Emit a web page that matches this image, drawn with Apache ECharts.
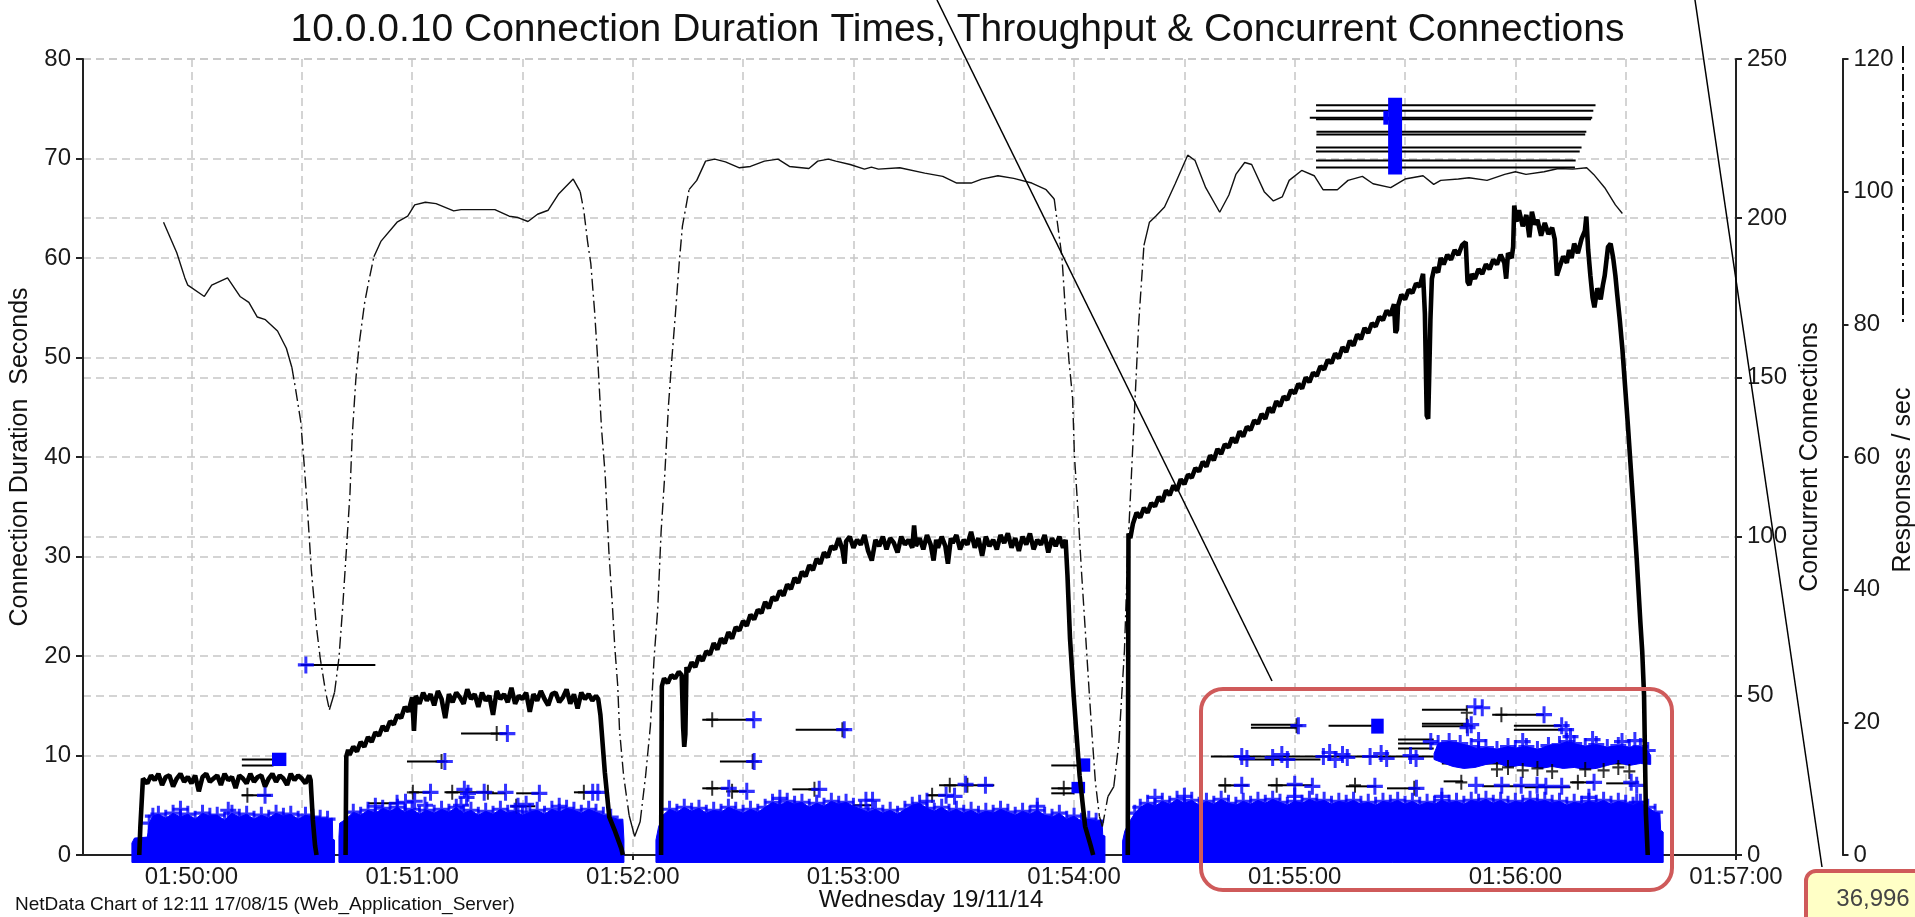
<!DOCTYPE html>
<html>
<head>
<meta charset="utf-8">
<script src="https://cdn.jsdelivr.net/npm/echarts@6/dist/echarts.min.js"></script>
<style>html,body{margin:0;padding:0;background:#fff;}#chart{width:1915px;height:917px;}</style>
</head>
<body>
<div id="chart"></div>
<script>
// ---- tick labels (seconds after 01:50:00) ----
const xLabelSecs = [0, 60, 120, 180, 240, 300, 360, 420];
const xLabelTexts = ['01:50:00', '01:51:00', '01:52:00', '01:53:00', '01:54:00', '01:55:00', '01:56:00', '01:57:00'];
const xTickSecs = [0, 30, 60, 90, 120, 150, 180, 210, 240, 270, 300, 330, 360, 390, 420];

// ---- concurrent connections [sec, connections] ----
const concSeg1 = [[-14.2,0],[-13.9,9],[-13.4,9.5],[-13.2,24],[-12,22.5],[-11,25],[-10,23.5],[-9,25.5],[-8,22],[-7,24.5],[-6,25],[-5,21.5],[-4,24],[-3,25.5],[-2,23],[-1,24.5],[0,22.5],[1,25],[2,20],[3,24.5],[4,25.5],[5,23],[6,24],[7,25],[8,22],[9,25.5],[10,23.5],[11,24.5],[12,21],[13,25],[14,24],[15,22.5],[16,25.5],[17,23],[18,24.5],[19,25],[20,21.5],[21,24],[22,25.5],[23,23],[24,25],[25,24],[26,22],[27,25.5],[28,23.5],[29,25],[30,24],[31,22.5],[32,25],[32.4,23.5],[33,11],[33.6,3],[34,0]];
const concSeg2 = [[41.9,0],[42.1,31],[42.6,33],[43,31.5],[44,34],[45,32.5],[46,35.5],[47,34],[48,37],[49,35.5],[50,38.5],[51,37.5],[52,40.5],[53,39],[54,42],[55,41],[56,44],[57,43],[58,46.5],[59,45],[60,49.5],[60.5,39],[61,50],[62,47.5],[63,51],[64,48.5],[65,50.5],[66,47],[67,51.5],[68,49],[69,43],[70,50.5],[71,48],[72,51],[73,49.5],[74,47.5],[75,52],[76,49],[77,50.5],[78,46.5],[79,51],[80,48.5],[81,50],[82,44],[83,51.5],[84,49],[85,50.5],[86,48],[87,52.5],[88,47.5],[89,50],[90,49],[91,51],[92,45],[93,50.5],[94,48.5],[95,51.5],[96,49],[97,47],[98,50.5],[99,51],[100,48],[101,49.5],[102,52],[103,47.5],[104,50.5],[105,46],[106,51],[107,49],[108,50.5],[109,48.5],[110,50],[110.6,49],[111.2,44],[112.4,26],[113.6,12],[115,8],[116.9,2],[117.3,0]];
const concSeg3 = [[127.7,0],[127.9,53],[128.5,55.5],[129.5,54],[130.5,56.5],[131.5,55.5],[132.5,57.5],[133.3,56.5],[133.7,40],[134,34],[134.3,38],[134.6,59],[135,57.5],[136,60.5],[137,59],[138,62.5],[139,61],[140,64],[141,63],[142,66.5],[143,64.5],[144,68],[145,66.5],[146,70],[147,68],[148,71.5],[149,70.5],[150,73.5],[151,72],[152,75.5],[153,74],[154,77],[155,76],[156,79.5],[157,77.5],[158,81],[159,80],[160,83],[161,81.5],[162,85],[163,83.5],[164,87],[165,85.5],[166,89],[167,87.5],[168,91],[169,89.5],[170,93],[171,91.5],[172,95],[173,93.5],[174,97],[175,96],[176,99.5],[177,96],[177.6,91.5],[178,98.5],[179,100],[180,96.5],[181,99],[182,97.5],[183,100.5],[184,95.5],[185,92.5],[186,99],[187,97],[188,100],[189,96],[190,99.5],[191,98],[192,95],[193,100],[194,97.5],[195,99],[196,96.5],[196.5,103.5],[197,97],[198,99.5],[199,96],[200,100.5],[201,97.5],[201.8,92.5],[202.5,99],[203,96.5],[204,100],[205,97],[205.7,91.5],[206.5,99.5],[207,98],[208,100.5],[209,96],[210,99],[211,97.5],[212,101.5],[213,96.5],[214,99.5],[215,94],[216,100],[217,97],[218,99],[219,96],[220,100.5],[221,98],[222,101],[223,96.5],[224,99.5],[225,95.5],[226,100],[227,97.5],[228,101],[229,96],[230,99],[231,97.5],[232,100.5],[233,95],[234,99.5],[235,97],[236,100],[237,96.5],[237.7,99],[238.2,88],[238.9,68],[239.9,50],[240.6,39],[241.5,25],[243,9],[244.5,3],[245.2,0]];
const concSeg4 = [[254.6,0],[254.8,101],[255.3,99.5],[256,104],[257,107.5],[258,106],[259,109],[260,107.5],[261,110.5],[262,109.5],[263,112.5],[264,111],[265,114.5],[266,113],[267,116],[268,114.5],[269,118],[270,116.5],[271,119.5],[272,118.5],[273,121.5],[274,120.5],[275,123.5],[276,122],[277,125.5],[278,124],[279,127.5],[280,126],[281,129],[282,128],[283,131],[284,129.5],[285,133],[286,131.5],[287,134.5],[288,133.5],[289,136.5],[290,135.5],[291,138.5],[292,137],[293,140.5],[294,139],[295,142.5],[296,141],[297,144],[298,143],[299,146],[300,145],[301,148],[302,146.5],[303,150],[304,148.5],[305,151.5],[306,150.5],[307,153.5],[308,152.5],[309,155.5],[310,154.5],[311,157.5],[312,156],[313,159.5],[314,158],[315,161.5],[316,160],[317,163.5],[318,162],[319,165.5],[320,164],[321,167],[322,166],[323,169],[324,168],[325,171],[326,169.5],[327,173],[327.4,164],[327.8,165],[328.1,172.5],[329,176],[330,174.5],[331,177.5],[332,176.5],[333,179.5],[334,178.5],[334.9,182.5],[335.4,170],[335.9,138],[336.3,137],[336.6,152],[336.9,168],[337.3,181],[338,184.5],[339,183],[339.7,187.5],[340.5,185.5],[341.5,188.5],[342.5,187],[343.5,190],[344.5,188.5],[345.5,191.5],[346.5,192.5],[347,180],[347.5,179],[348.2,182.5],[349,181],[350,184],[351,182.5],[352,185.5],[353,184],[354,187],[355,185.5],[356,188.5],[357,186],[357.5,181],[358,189],[359,187.5],[359.4,191],[359.7,204],[360.3,199],[361,202.5],[362,197.5],[363,201],[363.8,194],[364.5,202],[365.3,198],[366,199.5],[367,194.5],[368,198.5],[369,195],[370,197],[370.7,193.5],[371.3,182],[372,184.5],[373,188],[374,186],[374.6,190],[375.3,187.5],[376,192],[377,189],[378,193.5],[378.9,196],[379.3,200.5],[379.8,190],[380.4,182],[381,175],[381.5,172],[382.3,178],[383.2,174.5],[383.8,179],[384.3,182],[385.2,191],[385.9,192],[386.6,187.5],[387.2,182],[387.7,176],[388.4,168],[389.1,159],[390.6,135],[392,111],[393,93],[394,73],[394.5,64],[395,50],[395.5,13],[396,0]];

// ---- responses / sec [sec, responses] ----
const respPoints = [[-7.6,95.4],[-4.0,90.8],[-1.8,87.0],[-1.0,85.9],[3.5,84.2],[5.5,85.9],[9.8,87.0],[13.2,84.2],[15.6,83.3],[17.9,81.1],[20.1,80.7],[23.4,79.0],[25.8,76.4],[27.3,73.5],[28.2,70.6],[29.7,65.4],[30.7,58.5],[31.6,51.6],[32.6,42.9],[34.0,34.3],[35.0,29.7],[36.5,24.5],[37.5,21.9],[38.9,24.5],[40.1,29.7],[41.1,37.2],[42.1,45.8],[43.1,54.5],[43.7,63.1],[44.7,71.8],[45.7,77.5],[47.1,83.3],[48.1,86.2],[49.6,90.2],[51.5,92.5],[55.9,95.4],[58.8,96.3],[60.7,98.0],[63.6,98.4],[66.5,98.2],[71.3,97.1],[73.3,97.3],[82.5,97.3],[86.4,96.3],[88.8,96.1],[91.5,95.5],[94.1,96.6],[97.0,97.2],[99.9,99.7],[103.8,101.9],[105.7,100.0],[106.7,97.1],[107.7,92.5],[108.6,89.1],[109.6,82.1],[110.6,73.5],[111.5,64.3],[112.5,57.3],[113.5,45.8],[114.5,37.2],[115.1,31.4],[115.9,25.6],[116.4,18.8],[117.5,12.0],[119.0,6.0],[120.5,2.8],[122.0,5.0],[123.5,12.0],[124.8,19.5],[125.8,29.7],[126.8,37.2],[127.7,48.7],[128.7,57.3],[129.7,67.7],[130.6,74.6],[131.6,81.6],[132.6,89.1],[133.5,94.8],[135.3,100.3],[137.4,101.7],[139.8,104.6],[142.3,104.9],[145.2,104.5],[149.0,103.6],[152.0,103.8],[155.8,104.6],[159.5,104.9],[162.6,103.8],[167.9,103.5],[170.3,104.6],[173.2,104.9],[175.2,104.6],[179.1,104.1],[183.0,103.4],[184.9,103.7],[186.8,103.4],[192.6,103.6],[199.4,102.8],[204.3,102.3],[208.1,101.3],[212.0,101.3],[214.9,101.9],[219.3,102.4],[223.6,102.0],[228.5,101.3],[232.4,100.3],[234.6,98.9],[235.3,96.0],[236.7,90.2],[237.7,81.6],[238.6,74.6],[239.6,68.9],[240.1,60.2],[241.1,51.6],[242.0,42.9],[243.0,34.3],[244.0,25.6],[244.8,18.8],[245.8,11.0],[246.9,5.8],[247.7,4.3],[249.2,8.8],[250.8,10.3],[252.2,17.0],[253.7,30.8],[254.6,45.8],[255.6,57.3],[256.6,68.9],[257.6,80.4],[259.0,91.9],[260.5,95.4],[262.2,96.3],[264.6,97.7],[267.5,101.2],[270.9,105.5],[272.9,104.7],[275.8,100.6],[279.6,96.9],[282.1,99.5],[284.0,102.6],[286.4,104.4],[288.3,104.1],[291.7,100.0],[294.2,98.6],[296.6,99.2],[298.5,101.7],[301.9,103.2],[305.3,102.4],[307.7,100.3],[311.6,100.3],[314.5,101.7],[318.4,102.3],[321.3,101.2],[326.1,100.6],[330.0,101.9],[334.9,102.4],[337.8,101.1],[339.7,101.7],[344.5,101.9],[347.4,102.1],[352.3,101.7],[357.1,102.6],[360.0,103.0],[362.9,102.6],[367.8,103.0],[371.7,103.5],[375.6,103.4],[379.4,103.6],[381.3,102.6],[384.3,100.6],[387.2,98.0],[389.1,96.7]];

// ---- connection durations: horizontal lines [start sec, end sec, duration s] ----
const connLines = [[29.7,50.0,19.1],[13.7,22.3,9.6],[13.7,22.3,9.0],[13.7,21.6,6.0],[73.3,85.9,12.2],[58.6,68.9,9.4],[59.2,65.0,6.3],[68.8,80.6,6.3],[80.6,85.4,6.2],[88.3,94.6,6.2],[104.0,110.5,6.3],[87.1,93.5,4.9],[48.0,55.9,5.2],[138.9,152.9,13.6],[164.3,177.1,12.6],[143.7,152.9,9.4],[138.9,146.1,6.7],[147.0,151.0,6.4],[163.4,170.7,6.6],[179.9,184.9,5.0],[203.3,218.3,7.0],[200.0,205.2,6.0],[233.8,241.1,9.0],[233.8,240.1,6.7],[233.8,240.1,6.2],[288.1,300.5,13.1],[288.1,300.5,12.8],[309.2,321.3,13.0],[334.6,347.0,14.6],[334.6,347.0,13.2],[334.6,347.0,12.95],[353.7,367.8,14.1],[359.6,372.6,13.0],[359.6,372.6,12.6],[328.1,337.8,11.6],[328.1,337.8,11.2],[328.1,337.8,10.7],[277.2,337.8,9.9],[285.0,307.0,9.6],[279.2,287.4,7.0],[292.7,304.8,7.0],[313.9,322.2,6.9],[325.1,333.1,6.7],[340.5,345.8,7.4],[351.0,362.5,6.9],[362.5,375.0,6.8],[374.9,381.4,7.3],[384.7,392.8,7.2],[337.8,396.0,9.8],[340.0,392.0,9.2],[305.8,381.8,75.35],[305.8,381.2,74.8],[304.1,380.9,74.1],[305.8,380.6,73.95],[305.9,379.3,72.7],[305.9,379.0,72.4],[305.8,378.0,71.1],[305.8,377.5,70.7],[305.8,376.4,69.8],[305.8,376.2,69.1]];
const blackPlus = [[15.2,6.0],[83.0,12.2],[68.0,9.4],[60.2,6.3],[70.9,6.3],[80.6,6.3],[106.7,6.3],[88.3,4.9],[141.6,13.6],[177.0,12.6],[152.6,9.4],[141.6,6.7],[147.0,6.4],[169.4,6.6],[206.2,7.0],[211.0,7.0],[201.4,6.0],[237.2,6.7],[300.5,13.0],[346.8,14.3],[346.8,13.0],[356.2,14.1],[281.1,7.0],[295.1,7.0],[316.4,7.0],[332.5,6.7],[345.3,7.3],[377.0,7.3],[355,8.6],[358,8.8],[362,8.5],[366,8.7],[370,8.4],[379,8.6],[384,8.5],[388,8.8],[391,8.4]];
const bluePlus = [[31.1,19.1],[20.0,6.0],[85.9,12.2],[68.9,9.4],[65.0,6.3],[74.2,6.6],[75.2,6.2],[74.8,5.8],[79.6,6.3],[85.4,6.3],[94.6,6.2],[109.1,6.3],[110.5,6.3],[55.9,5.2],[58.2,5.3],[60.7,5.4],[63.5,5.0],[73.3,5.0],[88.8,4.9],[91.0,5.1],[152.9,13.6],[177.5,12.6],[153.0,9.4],[146.1,6.7],[151.0,6.4],[170.7,6.6],[183.4,5.5],[185.2,5.5],[210.5,7.1],[215.9,7.0],[205.2,6.0],[207.5,5.9],[301.0,13.0],[349.0,14.9],[351.0,14.8],[348.0,13.1],[347.0,12.8],[367.8,14.1],[372.6,13.0],[373.8,12.6],[337.0,11.4],[285.6,9.9],[287.0,9.7],[294.0,9.8],[296.5,10.1],[298.0,9.6],[307.8,9.9],[309.5,10.3],[311.0,9.6],[313.0,10.1],[314.3,9.8],[320.5,9.9],[323.5,10.2],[325.0,9.7],[331.5,10.0],[333.0,9.7],[350.0,11.5],[362.0,11.4],[375.0,11.9],[381.0,11.6],[389.0,11.4],[392.5,11.5],[285.6,7.0],[300.0,7.1],[304.8,6.9],[321.8,6.9],[333.1,6.7],[349.3,7.0],[356.3,7.0],[361.6,7.0],[365.9,7.0],[368.3,6.9],[372.6,6.9],[381.4,7.3],[391.5,7.3],[393.0,7.0],[393.0,5.3],[270,5.9],[-3,4.6],[10,4.5],[50,4.9],[100,4.9],[160,5.7],[200,5.4],[230,4.9],[262,5.8],[300,5.9],[340,5.9],[380,5.8]];
// dense clusters of markers [start sec, end sec, low s, high s]
const blueBlocks = [[21.9,25.8,8.94,10.28],[241.1,244.4,8.37,9.71],[239.3,243.0,6.2,7.35],[320.8,324.2,12.2,13.7],[325.4,329.2,68.4,76.1],[324.1,325.4,73.4,74.8]];

// ---- dense short-connection clouds: upper edge [sec, duration s] ----
const cloudBase = -0.75;
const cloudTop1 = [[-16.2,1.2],[-15.5,1.7],[-12,1.8],[-11.5,3.2],[-10.5,3.9],[-9,4.1],[-7,3.7],[-5,4.2],[-3,3.8],[-1,4.1],[1,3.6],[3,4.2],[5,3.9],[7,4.0],[9,3.5],[11,4.2],[13,3.8],[15,4.1],[17,3.6],[19,4.0],[21,3.7],[23,4.2],[25,3.9],[27,4.1],[29,3.6],[31,4.0],[33,3.8],[35,3.7],[37,3.6],[38.3,3.7],[38.4,1.6],[38.9,1.5]];
const cloudTop2 = [[40.1,1.8],[40.3,3.2],[42,3.6],[44,4.3],[46,4.0],[48,4.5],[50,4.2],[52,4.7],[54,4.4],[56,4.8],[58,4.3],[60,4.6],[62,4.1],[64,4.5],[66,4.2],[68,4.6],[70,4.3],[72,4.8],[74,4.2],[76,4.5],[78,4.0],[80,4.4],[82,4.1],[84,4.6],[86,4.2],[88,4.4],[90,4.0],[92,4.3],[94,4.5],[96,4.1],[98,4.6],[100,4.3],[102,4.7],[104,4.5],[106,4.2],[108,4.6],[110,4.3],[112,4.0],[114,3.8],[116,3.6],[117.3,3.6],[117.6,1.5]];
const cloudTop3 = [[126.3,1.5],[127,2.8],[128.2,4.0],[130,4.6],[132,4.3],[134,4.8],[136,4.4],[138,4.7],[140,4.2],[142,4.5],[144,4.3],[146,4.8],[148,4.5],[150,4.2],[152,4.6],[154,4.3],[156,4.8],[158,5.3],[160,5.0],[162,5.4],[164,5.1],[166,5.3],[168,4.8],[170,5.2],[172,4.9],[174,5.4],[176,5.1],[178,5.3],[180,4.9],[182,4.6],[184,4.3],[186,4.6],[188,4.2],[190,4.5],[192,4.1],[194,4.6],[196,5.0],[198,5.2],[200,4.7],[202,4.4],[204,4.8],[206,4.3],[208,4.6],[210,4.2],[212,4.5],[214,4.1],[216,4.4],[218,4.2],[220,4.6],[222,4.3],[224,4.0],[226,4.4],[228,4.1],[230,4.5],[232,4.0],[234,3.8],[236,4.2],[238,3.6],[240,3.9],[242,3.4],[244,3.6],[246,3.4],[247.6,3.5],[247.8,2.0],[248.4,1.9]];
const cloudTop4 = [[253.2,1.4],[253.8,2.4],[255,3.3],[256.5,4.2],[258,4.8],[260,5.2],[262,4.9],[264,5.4],[266,5.1],[268,5.6],[270,5.2],[272,5.5],[274,5.0],[276,5.4],[278,5.1],[280,5.6],[282,5.2],[284,5.0],[286,5.4],[288,5.1],[290,5.5],[292,5.2],[294,5.6],[296,5.3],[298,5.0],[300,5.4],[302,5.2],[304,5.6],[306,5.3],[308,5.5],[310,5.1],[312,5.4],[314,5.2],[316,5.5],[318,5.1],[320,5.3],[322,5.0],[324,5.4],[326,5.2],[328,5.5],[330,5.1],[332,5.4],[334,5.0],[336,5.3],[338,5.1],[340,5.5],[342,5.2],[344,5.4],[346,5.1],[348,5.5],[350,5.3],[352,5.6],[354,5.2],[356,5.5],[358,5.1],[360,5.4],[362,5.2],[364,5.6],[366,5.3],[368,5.5],[370,5.2],[372,5.4],[374,5.0],[376,5.3],[378,5.1],[380,5.4],[382,5.2],[384,5.5],[386,5.1],[388,5.4],[390,5.2],[392,5.0],[394,5.3],[396,4.8],[398,4.3],[399.3,4.2],[399.5,2.5],[400.2,2.3]];
// dense band of ~10 s connections near the end
const bandTop = [[337.9,10.2],[339,11.2],[342,11.4],[345,11.2],[348,10.9],[350,10.6],[352,10.8],[355,10.6],[358,10.9],[360,10.7],[363,10.9],[366,10.6],[369,11.0],[372,11.1],[374,11.4],[376,11.2],[379,10.9],[382,11.1],[385,10.8],[388,11.0],[391,10.8],[394,10.9],[396,10.5],[396.8,10.0]];
const bandBottom = [[396.8,9.1],[394,9.2],[391,9.0],[388,9.3],[385,9.0],[382,8.7],[379,8.6],[376,8.8],[373,8.7],[370,8.9],[367,8.7],[364,8.9],[361,9.0],[358,8.8],[355,9.3],[352,9.1],[349,8.8],[346,8.7],[343,8.9],[340,9.3],[337.9,9.6]];

// ---------------------------------------------------------------
const FONT = '"Liberation Sans", Arial, sans-serif';
const chart = echarts.init(document.getElementById('chart'), null, {renderer: 'canvas'});

// split responses into solid (gentle) and dash-dot (steep) runs
function splitRuns(pts, thr) {
  const runs = [];
  let cur = null;
  for (let i = 0; i < pts.length - 1; i++) {
    const a = pts[i], b = pts[i + 1];
    const steep = Math.abs((b[1] - a[1]) / (b[0] - a[0])) > thr;
    if (!cur || cur.steep !== steep) {
      cur = {steep: steep, data: [a]};
      runs.push(cur);
    }
    cur.data.push(b);
  }
  return runs;
}
const respRuns = splitRuns(respPoints, 2.5);

const plusBlue = 'path://M6.5,0H9.5V6.5H16V9.5H9.5V16H6.5V9.5H0V6.5H6.5Z';
const plusBlack = 'path://M5,0H7V6H12V8H7V14H5V8H0V6H5Z';
const cloudShapes = [cloudTop1, cloudTop2, cloudTop3, cloudTop4];
// the fringe of markers along the cloud edges (interior envelope points only)
const cloudFringe = [];
cloudShapes.forEach(function (c) { c.slice(3, c.length - 3).forEach(function (p) { cloudFringe.push(p); }); });
bandTop.slice(1, bandTop.length - 1).forEach(function (p) { cloudFringe.push(p); });

const series = [];
respRuns.forEach(function (r) {
  series.push({
    type: 'line', xAxisIndex: 0, yAxisIndex: 2, data: r.data, showSymbol: false, silent: true,
    lineStyle: {color: '#111', width: 1.4, type: r.steep ? [12, 4, 2, 4] : 'solid'}
  });
});
[concSeg1, concSeg2, concSeg3, concSeg4].forEach(function (seg) {
  series.push({
    name: 'Concurrent Connections', type: 'line', yAxisIndex: 1, showSymbol: false, silent: true,
    data: seg, lineStyle: {color: '#000', width: 4.6}
  });
});
series.push({
  type: 'custom', yAxisIndex: 0, silent: true, data: connLines, encode: {x: [0, 1], y: 2},
  renderItem: function (params, api) {
    const p1 = api.coord([api.value(0), api.value(2)]);
    const p2 = api.coord([api.value(1), api.value(2)]);
    return {type: 'line', shape: {x1: p1[0], y1: p1[1], x2: p2[0], y2: p2[1]}, style: {stroke: '#000', lineWidth: 2}};
  }
});
series.push({
  type: 'scatter', yAxisIndex: 0, silent: true, data: blackPlus, symbol: plusBlack, symbolSize: [12, 15],
  itemStyle: {color: '#000'}
});
series.push({
  type: 'custom', yAxisIndex: 0, silent: true,
  data: cloudShapes.map(function (c, i) { return [c[0][0], c[c.length - 1][0], i]; }),
  encode: {x: [0, 1]},
  renderItem: function (params, api) {
    const top = cloudShapes[params.dataIndex];
    const pts = top.map(function (p) { return api.coord(p); });
    pts.push(api.coord([top[top.length - 1][0], cloudBase]));
    pts.push(api.coord([top[0][0], cloudBase]));
    return {type: 'polygon', shape: {points: pts}, style: {fill: '#0000ff', stroke: '#0000ff', lineWidth: 1}};
  }
});
series.push({
  type: 'custom', yAxisIndex: 0, silent: true, data: [[bandTop[0][0], bandTop[bandTop.length - 1][0]]],
  encode: {x: [0, 1]},
  renderItem: function (params, api) {
    const pts = bandTop.concat(bandBottom).map(function (p) { return api.coord(p); });
    return {type: 'polygon', shape: {points: pts}, style: {fill: '#0000ff', stroke: '#0000ff', lineWidth: 1}};
  }
});
series.push({
  type: 'scatter', yAxisIndex: 0, silent: true, data: cloudFringe, symbol: plusBlue, symbolSize: [16, 17],
  itemStyle: {color: '#0000ff'}
});
series.push({
  type: 'scatter', yAxisIndex: 0, silent: true, data: bluePlus, symbol: plusBlue, symbolSize: [16, 17],
  itemStyle: {color: '#0000ff'}
});
series.push({
  type: 'custom', yAxisIndex: 0, silent: true, data: blueBlocks, encode: {x: [0, 1], y: [2, 3]},
  renderItem: function (params, api) {
    const a = api.coord([api.value(0), api.value(3)]);
    const b = api.coord([api.value(1), api.value(2)]);
    return {type: 'rect', shape: {x: a[0], y: a[1], width: b[0] - a[0], height: b[1] - a[1]}, style: {fill: '#0000ff'}};
  }
});

const axisLineStyle = {color: '#222', width: 2};
const labelStyle = {color: '#1a1a1a', fontSize: 24, fontFamily: FONT};
const gridLine = {show: true, lineStyle: {color: '#c6c6c6', width: 1.5, type: [8, 5]}};

chart.setOption({
  animation: false,
  backgroundColor: '#ffffff',
  title: {
    text: '10.0.0.10 Connection Duration Times, Throughput & Concurrent Connections',
    left: 'center', top: 6,
    textStyle: {fontSize: 39, fontWeight: 'normal', color: '#111', fontFamily: FONT}
  },
  grid: {left: 80, top: 59, width: 1656, height: 796, containLabel: false},
  xAxis: {
    type: 'value', min: -29.5, max: 420,
    axisLine: {show: true, onZero: false, lineStyle: axisLineStyle},
    axisTick: {show: true, customValues: xTickSecs, length: 5, lineStyle: axisLineStyle},
    axisLabel: Object.assign({
      customValues: xLabelSecs, margin: 10,
      formatter: function (v) { return xLabelTexts[xLabelSecs.indexOf(v)]; }
    }, labelStyle),
    splitLine: gridLine
  },
  yAxis: [{
    type: 'value', position: 'left', min: 0, max: 80, interval: 10,
    name: 'Connection Duration  Seconds', nameLocation: 'middle', nameGap: 50,
    nameTextStyle: {fontSize: 25, color: '#111', fontFamily: FONT},
    axisLine: {show: true, onZero: false, lineStyle: axisLineStyle},
    axisTick: {show: true, length: 7, lineStyle: axisLineStyle},
    axisLabel: Object.assign({margin: 12}, labelStyle),
    splitLine: gridLine
  }, {
    type: 'value', position: 'right', min: 0, max: 250, interval: 50,
    name: 'Concurrent Connections', nameLocation: 'middle', nameGap: 59,
    nameTextStyle: {fontSize: 25, color: '#111', fontFamily: FONT},
    axisLine: {show: true, onZero: false, lineStyle: axisLineStyle},
    axisTick: {show: true, length: 6, lineStyle: axisLineStyle},
    axisLabel: Object.assign({margin: 11}, labelStyle),
    splitLine: gridLine
  }, {
    type: 'value', position: 'right', offset: 106.5, min: 0, max: 120, interval: 20,
    axisLine: {show: true, onZero: false, lineStyle: axisLineStyle},
    axisTick: {show: true, length: 6, lineStyle: axisLineStyle},
    axisLabel: Object.assign({margin: 11}, labelStyle),
    splitLine: {show: false}
  }],
  series: series,
  graphic: [
    {type: 'line', z: 100, shape: {x1: 1903, y1: 46, x2: 1903, y2: 322}, style: {stroke: '#111', lineWidth: 2, lineDash: [17, 4, 3, 4]}},
    {type: 'text', z: 100, x: 1903, y: 480, rotation: Math.PI / 2,
      style: {text: 'Responses / sec', font: '25px ' + FONT, fill: '#111', align: 'center', verticalAlign: 'middle'}},
    {type: 'text', z: 100, x: 15, y: 905,
      style: {text: 'NetData Chart of 12:11 17/08/15 (Web_Application_Server)', font: '19px ' + FONT, fill: '#111', align: 'left', verticalAlign: 'middle'}},
    {type: 'text', z: 100, x: 931, y: 900,
      style: {text: 'Wednesday 19/11/14', font: '24px ' + FONT, fill: '#111', align: 'center', verticalAlign: 'middle'}},
    {type: 'line', z: 100, shape: {x1: 937, y1: 0, x2: 1272, y2: 681}, style: {stroke: '#000', lineWidth: 1.5}},
    {type: 'line', z: 100, shape: {x1: 1695, y1: 0, x2: 1822, y2: 867}, style: {stroke: '#000', lineWidth: 1.5}},
    {type: 'rect', z: 100, shape: {x: 1201, y: 689, width: 471, height: 201, r: 22}, style: {fill: 'none', stroke: '#cf5a5a', lineWidth: 4}},
    {type: 'rect', z: 100, shape: {x: 1806, y: 871, width: 140, height: 70, r: 10}, style: {fill: '#ffffc6', stroke: '#cf5a5a', lineWidth: 4}},
    {type: 'text', z: 101, x: 1873, y: 899,
      style: {text: '36,996', font: '24px ' + FONT, fill: '#444', align: 'center', verticalAlign: 'middle'}}
  ]
});
</script>
</body>
</html>
